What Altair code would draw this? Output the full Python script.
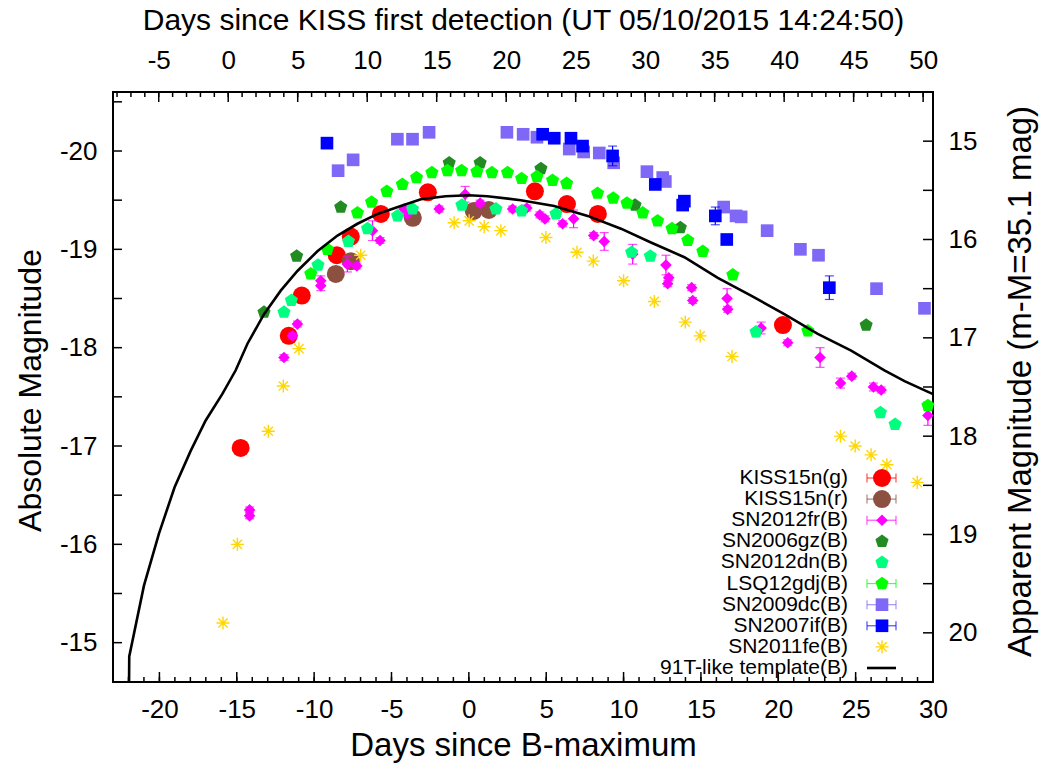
import altair as alt
import pandas as pd

FONT = "Liberation Sans"

# ---------------- data ----------------
kiss_g_day = [-14.75, -11.64, -10.80, -8.54, -7.63, -5.69, -2.65, 4.27, 6.34, 8.34, 20.30]
kiss_g_mag = [-16.98, -18.12, -18.53, -18.94, -19.13, -19.36, -19.58, -19.59, -19.46, -19.36, -18.23]
kiss_g_err = [0.04, 0.03, 0.03, 0.03, 0.03, 0.03, 0.03, 0.03, 0.03, 0.03, 0.04]

kiss_r_day = [-8.60, -7.63, -3.62, 0.32, 1.29]
kiss_r_mag = [-18.75, -18.88, -19.32, -19.39, -19.40]
kiss_r_err = [0.07, 0.04, 0.03, 0.03, 0.03]

sn2012fr_day = [-14.17, -14.17, -11.95, -11.40, -11.08, -9.57, -9.57, -7.85, -7.24, -6.23,
                -5.74, -4.19, -3.97, -1.92, -0.24, 0.73, 2.83, 3.75, 4.59, 4.92,
                6.06, 6.77, 8.07, 8.75, 10.59, 12.74, 12.92, 12.85, 14.40, 14.47,
                16.69, 16.73, 18.89, 20.61, 22.70, 24.02, 24.75, 26.15, 26.65, 29.67]
sn2012fr_mag = [-16.35, -16.29, -17.90, -18.12, -18.24, -18.68, -18.63, -18.85, -18.83, -19.19,
                -19.09, -19.41, -19.36, -19.41, -19.56, -19.47, -19.41, -19.42, -19.35, -19.31,
                -19.26, -19.31, -19.14, -19.08, -18.95, -18.84, -18.71, -18.65, -18.61, -18.48,
                -18.50, -18.39, -18.20, -18.05, -17.90, -17.64, -17.71, -17.60, -17.57, -17.31]
sn2012fr_err = [0.03, 0.03, 0.03, 0.03, 0.03, 0.05, 0.05, 0.08, 0.03, 0.10,
                0.03, 0.03, 0.03, 0.03, 0.08, 0.03, 0.03, 0.03, 0.03, 0.03,
                0.03, 0.09, 0.03, 0.09, 0.10, 0.10, 0.03, 0.03, 0.03, 0.03,
                0.10, 0.03, 0.06, 0.03, 0.10, 0.05, 0.03, 0.04, 0.03, 0.10]

sn2006gz_day = [-13.24, -11.13, -8.28, -1.27, 0.73, 4.66, 10.74, 13.67, 25.68]
sn2006gz_mag = [-18.36, -18.93, -19.43, -19.88, -19.88, -19.82, -19.45, -19.22, -18.23]

sn2012dn_day = [-11.95, -11.47, -9.75, -7.78, -6.55, -4.61, -3.64, -0.45, 1.75, 3.41,
                5.63, 10.52, 11.73, 18.56, 26.60, 27.55]
sn2012dn_mag = [-18.36, -18.48, -18.84, -19.08, -19.21, -19.34, -19.41, -19.45, -19.41, -19.39,
                -19.36, -18.97, -18.93, -18.16, -17.34, -17.22]

lsq12gdj_day = [-10.22, -9.14, -7.20, -6.29, -5.30, -4.30, -3.38, -2.39, -1.38, -0.47,
                0.52, 1.49, 2.50, 3.41, 4.40, 5.41, 6.32, 8.32, 9.33, 10.22,
                11.24, 12.20, 13.13, 14.15, 15.12, 17.06, 21.91, 29.67]
lsq12gdj_mag = [-18.75, -19.00, -19.37, -19.48, -19.59, -19.66, -19.73, -19.78, -19.80, -19.80,
                -19.79, -19.78, -19.78, -19.72, -19.74, -19.70, -19.67, -19.57, -19.52, -19.47,
                -19.37, -19.29, -19.21, -19.09, -18.98, -18.74, -18.17, -17.41]
lsq12gdj_err = [0.03, 0.03, 0.03, 0.03, 0.03, 0.03, 0.03, 0.03, 0.03, 0.03,
                0.03, 0.03, 0.03, 0.03, 0.03, 0.03, 0.03, 0.03, 0.03, 0.03,
                0.03, 0.03, 0.03, 0.03, 0.03, 0.03, 0.03, 0.04]

sn2009dc_day = [-8.45, -7.48, -4.62, -3.64, -2.57, 2.46, 3.51, 4.40, 6.49, 7.42,
                8.43, 9.36, 11.51, 12.53, 12.70, 16.47, 17.27, 17.60, 19.28, 21.43,
                22.60, 26.35, 29.45]
sn2009dc_mag = [-19.80, -19.91, -20.12, -20.12, -20.19, -20.19, -20.17, -20.14, -20.02, -19.99,
                -19.98, -19.88, -19.79, -19.73, -19.69, -19.43, -19.34, -19.33, -19.19, -19.00,
                -18.94, -18.60, -18.40]
sn2009dc_err = [0.03, 0.03, 0.03, 0.03, 0.03, 0.03, 0.03, 0.03, 0.03, 0.03,
                0.03, 0.03, 0.03, 0.03, 0.03, 0.03, 0.03, 0.03, 0.03, 0.03,
                0.03, 0.03, 0.03]

sn2007if_day = [-9.17, 4.77, 5.52, 6.60, 7.35, 9.29, 12.05, 13.93, 13.82, 15.93, 16.67, 23.30]
sn2007if_mag = [-20.08, -20.17, -20.13, -20.13, -20.05, -19.95, -19.66, -19.49, -19.45, -19.34, -19.10, -18.61]
sn2007if_err = [0.03, 0.03, 0.03, 0.03, 0.03, 0.10, 0.03, 0.04, 0.03, 0.09, 0.03, 0.12]

sn2011fe_day = [-15.89, -14.96, -12.96, -11.99, -10.98, -6.99, -0.95, 0.02, 0.99, 2.07,
                4.98, 6.99, 8.04, 10.00, 11.99, 13.99, 14.95, 17.01, 24.02, 24.97,
                26.00, 27.02, 28.98]
sn2011fe_mag = [-15.20, -16.00, -17.15, -17.61, -17.99, -18.94, -19.27, -19.29, -19.23, -19.19,
                -19.12, -18.97, -18.88, -18.68, -18.47, -18.26, -18.12, -17.91, -17.10, -17.00,
                -16.91, -16.81, -16.63]

template_day = [-22.00, -21.95, -21.00, -20.03, -19.02, -17.98, -17.01, -15.93, -15.07, -14.31,
                -13.24, -12.16, -11.08, -9.79, -8.49, -7.20, -5.90, -4.40, -3.10, -1.50,
                0.00, 1.20, 3.36, 5.52, 7.68, 9.83, 11.77, 13.93, 16.09, 18.24,
                20.39, 22.55, 24.71, 26.86, 28.16, 30.10]
template_mag = [-13.80, -14.86, -15.58, -16.11, -16.58, -16.95, -17.26, -17.53, -17.77, -18.04,
                -18.34, -18.58, -18.78, -18.98, -19.14, -19.26, -19.36, -19.44, -19.51, -19.54,
                -19.55, -19.54, -19.50, -19.44, -19.34, -19.21, -19.07, -18.92, -18.71, -18.53,
                -18.34, -18.14, -17.97, -17.77, -17.66, -17.52]

legend_names = ["KISS15n(g)", "KISS15n(r)", "SN2012fr(B)", "SN2006gz(B)", "SN2012dn(B)",
                "LSQ12gdj(B)", "SN2009dc(B)", "SN2007if(B)", "SN2011fe(B)", "91T-like template(B)"]
legend_rows = [0, 1, 2, 3, 4, 5, 6, 7, 8, 9]

bottom_labels = [-20, -15, -10, -5, 0, 5, 10, 15, 20, 25, 30]
bottom_minor = [-23, -22, -21, -20, -19, -18, -17, -16, -15, -14, -13, -12, -11, -10, -9, -8, -7,
                -6, -5, -4, -3, -2, -1, 0, 1, 2, 3, 4, 5, 6, 7, 8, 9, 10, 11, 12, 13, 14, 15,
                16, 17, 18, 19, 20, 21, 22, 23, 24, 25, 26, 27, 28, 29]
top_labels = [-5, 0, 5, 10, 15, 20, 25, 30, 35, 40, 45, 50]
top_minor = [-8, -7, -6, -5, -4, -3, -2, -1, 0, 1, 2, 3, 4, 5, 6, 7, 8, 9, 10, 11, 12, 13, 14,
             15, 16, 17, 18, 19, 20, 21, 22, 23, 24, 25, 26, 27, 28, 29, 30, 31, 32, 33, 34,
             35, 36, 37, 38, 39, 40, 41, 42, 43, 44, 45, 46, 47, 48, 49, 50]
left_labels = [-20, -19, -18, -17, -16, -15]
left_ticks = [-20.5, -20.0, -19.5, -19.0, -18.5, -18.0, -17.5, -17.0, -16.5, -16.0, -15.5, -15.0]
right_labels = [15, 16, 17, 18, 19, 20]
right_ticks = [15.0, 15.5, 16.0, 16.5, 17.0, 17.5, 18.0, 18.5, 19.0, 19.5, 20.0]

# ---------------- layout / styles ----------------
W, H = 820, 590
PENT = "M0,-1L0.951,-0.309L0.588,0.809L-0.588,0.809L-0.951,-0.309Z"
STAR = "M-1,0L1,0M0,-1L0,1M-0.707,-0.707L0.707,0.707M-0.707,0.707L0.707,-0.707"

TICK_FS = 26
LEG_FS = 21

XS = alt.Scale(domain=[-23, 30], nice=False, zero=False)
YS = alt.Scale(domain=[-20.6, -14.6], reverse=True, nice=False, zero=False)
XT = alt.Scale(domain=[-8.29, 50.71], nice=False, zero=False)
YR = alt.Scale(domain=[14.5, 20.5], reverse=True, nice=False, zero=False)
LS = alt.Scale(domain=[0, 9], range=[386, 576], nice=False, zero=False)

common = dict(ticks=False, tickSize=0, domain=False, grid=False, labelFont=FONT,
              labelFontSize=TICK_FS, labelColor="black", labelFlush=False, labelOverlap=False,
              labelExpr="'' + datum.value", titleFont=FONT,
              titleFontWeight="normal", titleColor="black", titleAlign="center",
              titleBaseline="middle")

x_axis = alt.Axis(orient="bottom", values=bottom_labels, title="Days since B-maximum",
                  labelPadding=14, titleFontSize=33, titleX=W / 2, titleY=63, **common)
y_axis = alt.Axis(orient="left", values=left_labels, title="Absolute Magnitude",
                  labelPadding=16, titleFontSize=32, titleAngle=270, titleX=-83, titleY=H / 2 + 3,
                  **common)
top_axis = alt.Axis(orient="top", values=top_labels,
                    title="Days since KISS first detection (UT 05/10/2015 14:24:50)",
                    labelPadding=19, titleFontSize=30, titleX=W / 2, titleY=-72, **common)
right_axis = alt.Axis(orient="right", values=right_labels,
                      title="Apparent Magnitude (m-M=35.1 mag)",
                      labelPadding=15, titleFontSize=33, titleAngle=270, titleX=87,
                      titleY=H / 2 - 6, **common)


def X(f):
    return alt.X(f"{f}:Q", scale=XS, axis=x_axis)


def Y(f):
    return alt.Y(f"{f}:Q", scale=YS, axis=y_axis)


series = [
    ("KISS15n(g)", kiss_g_day, kiss_g_mag, kiss_g_err,
     dict(color="#ff0000", shape="circle", size=324, filled=True)),
    ("KISS15n(r)", kiss_r_day, kiss_r_mag, kiss_r_err,
     dict(color="#8c5040", shape="circle", size=324, filled=True)),
    ("SN2012fr(B)", sn2012fr_day, sn2012fr_mag, sn2012fr_err,
     dict(color="#ff00ff", shape="diamond", size=135, filled=True)),
    ("SN2006gz(B)", sn2006gz_day, sn2006gz_mag, None,
     dict(color="#228b22", shape=PENT, size=190, filled=True)),
    ("SN2012dn(B)", sn2012dn_day, sn2012dn_mag, None,
     dict(color="#00ff7f", shape=PENT, size=190, filled=True)),
    ("LSQ12gdj(B)", lsq12gdj_day, lsq12gdj_mag, lsq12gdj_err,
     dict(color="#00ff00", shape=PENT, size=190, filled=True)),
    ("SN2009dc(B)", sn2009dc_day, sn2009dc_mag, sn2009dc_err,
     dict(color="#7f68f5", shape="square", size=160, filled=True)),
    ("SN2007if(B)", sn2007if_day, sn2007if_mag, sn2007if_err,
     dict(color="#0000ff", shape="square", size=160, filled=True)),
    ("SN2011fe(B)", sn2011fe_day, sn2011fe_mag, None,
     dict(color="#ffd700", shape=STAR, size=170, filled=False, strokeWidth=1.4)),
]

main_layers = []
legend_layers = []
for i, (name, d, m, e, st) in enumerate(series):
    df = pd.DataFrame({"day": d, "mag": m})
    if e is not None:
        df["lo"] = df["mag"] - pd.Series(e)
        df["hi"] = df["mag"] + pd.Series(e)
        main_layers.append(alt.Chart(df).mark_rule(color=st["color"], strokeWidth=1.2)
                           .encode(x=X("day"), y=Y("lo"), y2="hi:Q"))
        for f in ("lo", "hi"):
            main_layers.append(alt.Chart(df).mark_tick(color=st["color"], orient="horizontal",
                                                       size=9, thickness=1.2)
                               .encode(x=X("day"), y=Y(f)))
    main_layers.append(alt.Chart(df).mark_point(opacity=1, **st).encode(x=X("day"), y=Y("mag")))

    ldf = pd.DataFrame({"row": [legend_rows[i]]})
    if e is not None:
        legend_layers.append(alt.Chart(ldf).mark_rule(color=st["color"], strokeWidth=1.2, opacity=0.7)
                             .encode(x=alt.value(754), x2=alt.value(783),
                                     y=alt.Y("row:Q", scale=LS, axis=None)))
        for xv in (754, 783):
            legend_layers.append(alt.Chart(ldf).mark_tick(color=st["color"], orient="vertical",
                                                          size=9, thickness=1.2, opacity=0.7)
                                 .encode(x=alt.value(xv), y=alt.Y("row:Q", scale=LS, axis=None)))
    legend_layers.append(alt.Chart(ldf).mark_point(opacity=1, **st)
                         .encode(x=alt.value(769), y=alt.Y("row:Q", scale=LS, axis=None)))

tdf = pd.DataFrame({"day": template_day, "mag": template_mag})
main_layers.append(alt.Chart(tdf).mark_line(color="black", strokeWidth=2.6, clip=True)
                   .encode(x=X("day"), y=Y("mag")))

# inward ticks (gnuplot style)
bmaj = pd.DataFrame({"day": bottom_labels})
bmin = pd.DataFrame({"day": bottom_minor})
main_layers.append(alt.Chart(bmaj).mark_rule(color="black", strokeWidth=1.5)
                   .encode(x=X("day"), y=alt.value(H), y2=alt.value(H - 10)))
main_layers.append(alt.Chart(bmin).mark_rule(color="black", strokeWidth=1.5)
                   .encode(x=X("day"), y=alt.value(H), y2=alt.value(H - 5)))
lt = pd.DataFrame({"mag": left_ticks})
main_layers.append(alt.Chart(lt).mark_rule(color="black", strokeWidth=1.5)
                   .encode(y=Y("mag"), x=alt.value(0), x2=alt.value(9)))

main = alt.layer(*main_layers)

tmaj = pd.DataFrame({"t": top_labels})
tmin = pd.DataFrame({"t": top_minor})
top = alt.layer(
    alt.Chart(tmaj).mark_rule(color="black", strokeWidth=1.5)
    .encode(x=alt.X("t:Q", scale=XT, axis=top_axis), y=alt.value(0), y2=alt.value(10)),
    alt.Chart(tmin).mark_rule(color="black", strokeWidth=1.5)
    .encode(x=alt.X("t:Q", scale=XT, axis=top_axis), y=alt.value(0), y2=alt.value(5)),
)

rt = pd.DataFrame({"m": right_ticks})
right = alt.Chart(rt).mark_rule(color="black", strokeWidth=1.5).encode(
    y=alt.Y("m:Q", scale=YR, axis=right_axis), x=alt.value(W - 10), x2=alt.value(W))

# legend (inside plot, bottom right)
ltext = pd.DataFrame({"row": legend_rows, "name": legend_names})
legend_layers.append(alt.Chart(ltext).mark_text(align="right", baseline="middle", font=FONT,
                                                fontSize=LEG_FS, color="black")
                     .encode(x=alt.value(735), y=alt.Y("row:Q", scale=LS, axis=None), text="name:N"))
legend_layers.append(alt.Chart(pd.DataFrame({"row": [legend_rows[9]]}))
                     .mark_rule(color="black", strokeWidth=2.6)
                     .encode(x=alt.value(754), x2=alt.value(783),
                             y=alt.Y("row:Q", scale=LS, axis=None)))
legend = alt.layer(*legend_layers)

chart = alt.layer(main, top, right, legend).resolve_scale(
    x="independent", y="independent"
).properties(
    width=W, height=H,
    autosize=alt.AutoSizeParams(type="none"),
    padding={"left": 113, "top": 92, "right": 1041 - 113 - W, "bottom": 763 - 92 - H},
    background="white",
).configure_view(stroke="black", strokeWidth=2)

chart.save("out.html", embed_options={"renderer": "svg", "actions": False})
